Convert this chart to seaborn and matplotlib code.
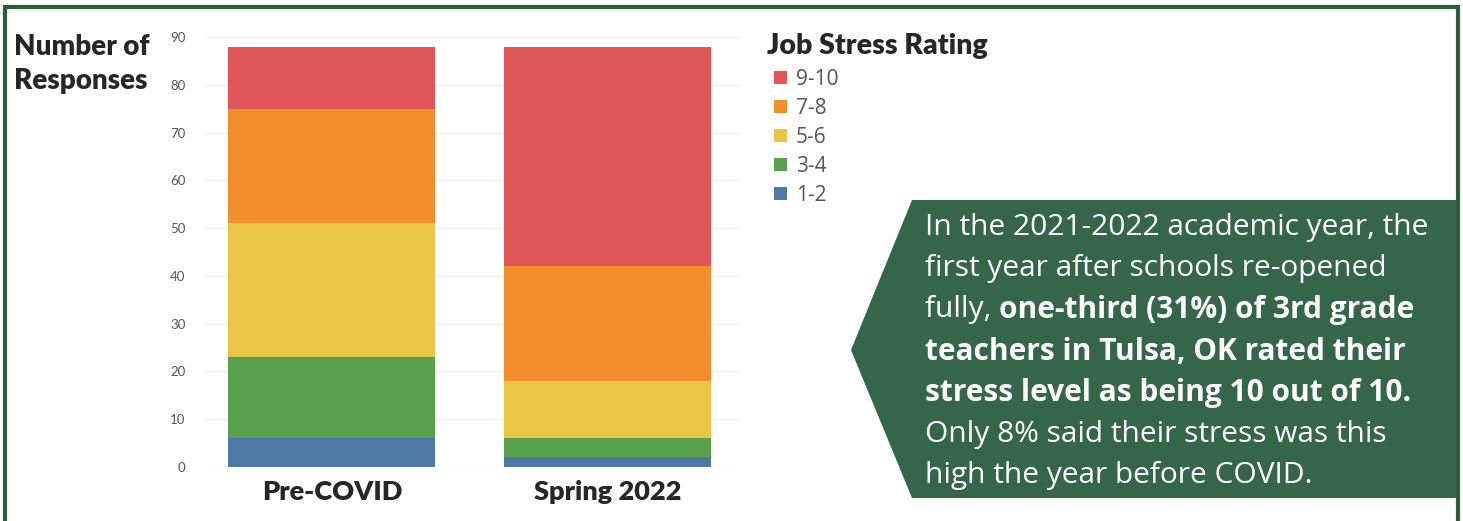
import matplotlib
matplotlib.use("Agg")
import matplotlib.pyplot as plt
import numpy as np
import pandas as pd
import seaborn as sns
from matplotlib.patches import Polygon, Rectangle

# data (number of responses per rating band)
periods = ["Pre-COVID", "Spring 2022"]
ratings = ["1-2", "3-4", "5-6", "7-8", "9-10"]
pre_covid = [6, 17, 28, 24, 13]
spring_2022 = [2, 4, 12, 24, 46]
colors = ["#4E79A7", "#59A14F", "#E9C646", "#F28E2B", "#E05759"]
yticks = [0, 10, 20, 30, 40, 50, 60, 70, 80, 90]

callout_lines = [
    [("In the 2021-2022 academic year, the", False)],
    [("first year after schools re-opened", False)],
    [("fully, ", False), ("one-third (31%) of 3rd grade", True)],
    [("teachers in Tulsa, OK rated their", True)],
    [("stress level as being 10 out of 10.", True)],
    [("Only 8% said their stress was this", False)],
    [("high the year before COVID.", False)],
]

W, H = 1463, 521
GREEN = "#35664A"

sns.set_style("white")
plt.rcParams["font.family"] = ["Lato", "DejaVu Sans"]


def fx(x):
    return x / W


def fy(y):
    return 1 - y / H


# long-form table with cumulative heights for the stacked look
rows = []
for p, vals in zip(periods, [pre_covid, spring_2022]):
    cum = np.cumsum(vals)
    for r, v, c in zip(ratings, vals, cum):
        rows.append({"period": p, "rating": r, "count": v, "cum": c})
df = pd.DataFrame(rows)

fig = plt.figure(figsize=(W / 100, H / 100), dpi=100)
ax = fig.add_axes([fx(205), fy(467), (740 - 205) / W, (467 - 37) / H])

# draw tallest (cumulative) first so smaller stacks sit on top
for r, c in reversed(list(zip(ratings, colors))):
    sns.barplot(data=df[df["rating"] == r], x="period", y="cum", order=periods,
                color=c, saturation=1, width=0.75, linewidth=0, label=r, ax=ax)

ax.set_xlim(-0.46, 1.48)
ax.set_ylim(0, 90)
ax.set_yticks(yticks)
ax.set_xlabel("")
ax.set_ylabel("")
ax.yaxis.grid(True, color="#f1f1f1", linewidth=1)
ax.set_axisbelow(True)
sns.despine(ax=ax, left=True, bottom=True)
ax.tick_params(axis="y", length=0, labelsize=9.5, labelcolor="#555555", pad=14)
ax.tick_params(axis="x", length=0, labelsize=19.5, pad=9)
for t in ax.get_xticklabels():
    t.set_fontweight("heavy")

fig.text(fx(767), fy(46), "Job Stress Rating", ha="left", va="center",
         fontsize=20.5, fontweight="heavy")
leg = ax.legend(loc="upper left",
                bbox_to_anchor=(fx(774), fy(69)), bbox_transform=fig.transFigure,
                frameon=False, handlelength=0.6, handleheight=0.6,
                handletextpad=0.45, labelspacing=0.38, borderpad=0,
                borderaxespad=0, prop={"family": "Open Sans", "size": 15})
for t in leg.get_texts():
    t.set_color("#555555")

fig.text(fx(14), fy(64), "Number of\nResponses", ha="left", va="center",
         fontsize=20, fontweight="heavy", linespacing=1.4)

# outer frame
fig.patches.append(Rectangle((fx(5), fy(530)), fx(1458) - fx(5), fy(7) - fy(530),
                             transform=fig.transFigure, fill=False,
                             edgecolor="#2E5C3C", linewidth=3))

# arrow-shaped callout
pts = [(851, 350), (912, 200), (1456, 200), (1456, 498), (912, 498)]
fig.patches.append(Polygon([(fx(x), fy(y)) for x, y in pts], closed=True,
                           transform=fig.transFigure, facecolor=GREEN,
                           edgecolor="none"))

fig.canvas.draw()
renderer = fig.canvas.get_renderer()
y0, step = 227, 41.5
for i, line in enumerate(callout_lines):
    x = 925
    for txt, bold in line:
        t = fig.text(fx(x), fy(y0 + i * step), txt, ha="left", va="center",
                     color="white", fontsize=21.5, family="Open Sans",
                     fontweight="bold" if bold else "normal")
        x += t.get_window_extent(renderer).width

fig.savefig("out.png", dpi=100)
